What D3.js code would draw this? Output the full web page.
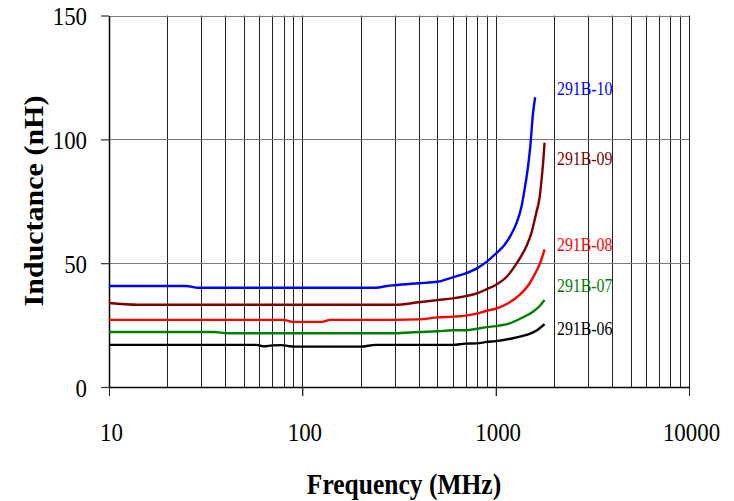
<!DOCTYPE html>
<html>
<head>
<meta charset="utf-8">
<script src="https://cdn.jsdelivr.net/npm/d3@7"></script>
<style>
  body { margin: 0; background: #fff; }
  svg { display: block; }
  text { font-family: "Liberation Serif", "Times New Roman", serif; }
</style>
</head>
<body>
<div class="container"></div>
<script>
// values
const seriesNames = ['291B-10', '291B-09', '291B-08', '291B-07', '291B-06'];
const seriesColors = ['#0000ff', '#800000', '#ff0000', '#008000', '#000000'];

const freq10 = [10, 25, 29, 240, 275, 300, 400, 500, 600, 700, 800, 900, 1000, 1110, 1200, 1280, 1360, 1410, 1470, 1510, 1560, 1600];
const val10  = [40.8, 40.8, 40.1, 40.1, 40.8, 41.1, 41.9, 42.5, 44.3, 45.9, 47.9, 50.6, 53.8, 57.3, 61.4, 66.1, 72.8, 79.6, 89.0, 97.1, 110.5, 117.0];

const freq09 = [10, 14, 300, 400, 500, 600, 700, 800, 900, 1000, 1140, 1300, 1440, 1530, 1620, 1690, 1740, 1770, 1790];
const val09  = [33.9, 33.2, 33.2, 34.2, 35.1, 35.8, 36.7, 37.8, 39.5, 41.2, 44.5, 50.6, 56.7, 62.1, 70.2, 76.9, 86.3, 93.0, 98.7];

const freq08 = [10, 80, 89, 126, 139, 300, 400, 500, 600, 700, 800, 900, 1000, 1140, 1330, 1500, 1620, 1710, 1790];
const val08  = [27.1, 27.1, 26.3, 26.3, 27.1, 27.1, 27.3, 28.1, 28.4, 28.8, 29.6, 30.8, 31.6, 33.5, 37.2, 41.9, 46.6, 50.6, 55.6];

const freq07 = [10, 35, 41, 300, 400, 500, 600, 700, 800, 900, 1000, 1180, 1380, 1560, 1690, 1790];
const val07  = [22.2, 22.2, 21.7, 21.7, 22.2, 22.5, 22.9, 22.9, 23.5, 24.2, 24.6, 25.7, 28.1, 30.4, 32.7, 35.1];

const freq06 = [10, 58, 63, 70, 78, 85, 92, 200, 240, 600, 700, 800, 900, 1000, 1230, 1440, 1620, 1790];
const val06  = [17.0, 17.0, 16.4, 16.8, 16.9, 16.5, 16.3, 16.3, 17.0, 17.0, 17.5, 17.6, 18.2, 18.5, 19.7, 21.0, 22.7, 25.4];

const xTicks = [10, 100, 1000, 10000];
const yTicks = [0, 50, 100, 150];

const allFreq = [freq10, freq09, freq08, freq07, freq06];
const allVal = [val10, val09, val08, val07, val06];

const width = 734, height = 501;
const plotLeft = 109, plotRight = 689, plotTop = 15.5, plotBottom = 387;
const squeeze = 0.88; // the reference type is a bit narrow

const svg = d3.select('.container')
    .append('svg')
    .attr('width', width)
    .attr('height', height);

const x = d3.scaleLog().domain([10, 10000]).range([plotLeft, plotRight]);
const y = d3.scaleLinear().domain([0, 150]).range([plotBottom, plotTop]);

// vertical grid, every minor decade step
const minor = [];
for (let d = 10; d < 10000; d *= 10) {
    for (let k = 2; k <= 10; k++) minor.push(d * k);
}
svg.append('g')
    .selectAll('line')
    .data(minor)
    .enter()
    .append('line')
    .attr('x1', d => Math.round(x(d)) + 0.5)
    .attr('x2', d => Math.round(x(d)) + 0.5)
    .attr('y1', y(150))
    .attr('y2', d => xTicks.includes(d) ? plotBottom + 9 : plotBottom)
    .attr('stroke', '#222')
    .attr('stroke-width', 1);

// horizontal grid
svg.append('g')
    .selectAll('line')
    .data(yTicks.filter(d => d > 0))
    .enter()
    .append('line')
    .attr('x1', plotLeft)
    .attr('x2', plotRight)
    .attr('y1', d => Math.round(y(d)) + 0.5)
    .attr('y2', d => Math.round(y(d)) + 0.5)
    .attr('stroke', '#7a7a7a')
    .attr('stroke-width', 1.2);

// y axis
const yAxis = svg.append('g')
    .attr('transform', `translate(${plotLeft},0)`)
    .call(d3.axisLeft(y).tickValues(yTicks).tickSize(8).tickSizeOuter(0));
yAxis.select('.domain').attr('stroke', '#000').attr('stroke-width', 1.5);
yAxis.selectAll('.tick line').attr('stroke', '#333').attr('stroke-width', 1.2);
yAxis.selectAll('.tick text')
    .attr('font-size', 26)
    .attr('font-family', '"Liberation Serif", serif')
    .attr('fill', '#000')
    .attr('x', -22 / squeeze)
    .attr('dy', '0.36em')
    .attr('transform', `scale(${squeeze},1)`);

// x axis
const xAxis = svg.append('g')
    .attr('transform', `translate(0,${plotBottom})`)
    .call(d3.axisBottom(x).tickValues(xTicks).tickFormat(d3.format('d')).tickSize(9).tickSizeOuter(0));
xAxis.select('.domain').attr('stroke', '#000').attr('stroke-width', 1.5);
xAxis.selectAll('.tick line').attr('stroke', '#222');
xAxis.selectAll('.tick text')
    .attr('font-size', 26)
    .attr('font-family', '"Liberation Serif", serif')
    .attr('fill', '#000')
    .attr('y', 54)
    .attr('dy', 0)
    .attr('transform', `translate(2,0) scale(${squeeze},1)`);

// curves
const line = d3.line()
    .x(d => x(d[0]))
    .y(d => y(d[1]))
    .curve(d3.curveMonotoneX);

seriesNames.forEach((name, i) => {
    const pts = allFreq[i].map((f, j) => [f, allVal[i][j]]);
    svg.append('path')
        .datum(pts)
        .attr('fill', 'none')
        .attr('stroke', seriesColors[i])
        .attr('stroke-width', 2.4)
        .attr('d', line);
});

// series labels
const labelBase = [95, 165, 251, 292, 335];
seriesNames.forEach((name, i) => {
    svg.append('text')
        .attr('transform', `translate(557,${labelBase[i]}) scale(${squeeze},1)`)
        .attr('font-size', 18)
        .attr('fill', seriesColors[i])
        .text(name);
});

// axis titles
svg.append('text')
    .attr('transform', `translate(404,494) scale(${squeeze},1)`)
    .attr('text-anchor', 'middle')
    .attr('font-size', 29)
    .attr('font-weight', 'bold')
    .text('Frequency (MHz)');

svg.append('text')
    .attr('transform', `translate(43,201) scale(${squeeze},1) rotate(-90)`)
    .attr('text-anchor', 'middle')
    .attr('font-size', 30)
    .attr('font-weight', 'bold')
    .text('Inductance (nH)');
</script>
</body>
</html>
